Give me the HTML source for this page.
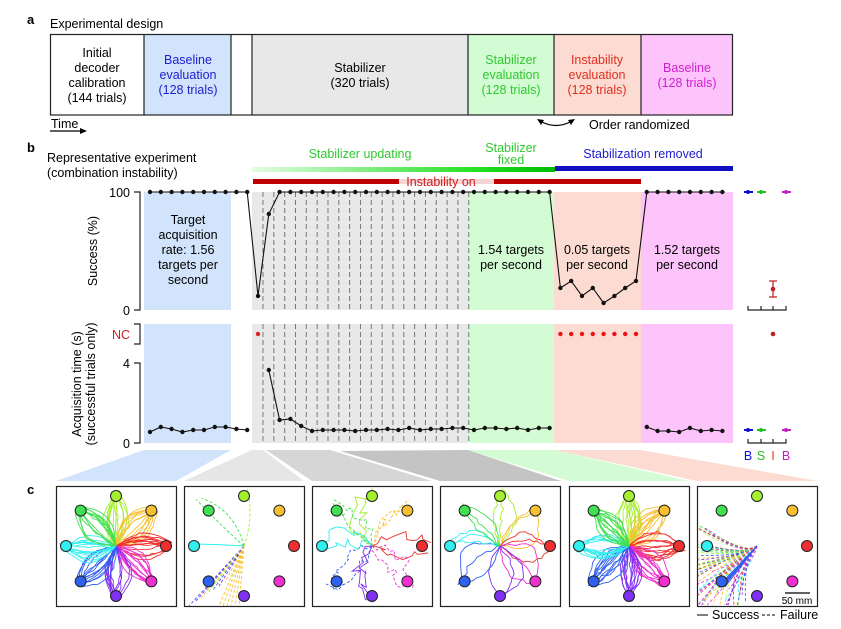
<!DOCTYPE html>
<html><head><meta charset="utf-8"><style>
html,body{margin:0;padding:0;background:#fff;}
svg{display:block;font-family:"Liberation Sans",Arial,sans-serif;}
</style></head><body>
<svg id="s" width="841" height="629" viewBox="0 0 841 629" xmlns="http://www.w3.org/2000/svg">
<text x="27" y="24" font-size="13" font-weight="bold">a</text>
<text x="50" y="28" font-size="12.5">Experimental design</text>
<rect x="144" y="34" width="87" height="81" fill="#d2e4fb"/>
<rect x="252" y="34" width="216" height="81" fill="#e8e8e8"/>
<rect x="468" y="34" width="86" height="81" fill="#d4fcd4"/>
<rect x="554" y="34" width="87" height="81" fill="#fcdcd2"/>
<rect x="641" y="34" width="92" height="81" fill="#fcc4fa"/>
<rect x="50.5" y="34.5" width="682" height="80.5" fill="none" stroke="#222" stroke-width="1.2"/>
<g stroke="#222" stroke-width="1.2"><line x1="144" y1="34" x2="144" y2="115"/><line x1="231" y1="34" x2="231" y2="115"/><line x1="252" y1="34" x2="252" y2="115"/><line x1="468" y1="34" x2="468" y2="115"/><line x1="554" y1="34" x2="554" y2="115"/><line x1="641" y1="34" x2="641" y2="115"/></g>
<g font-size="12.5" text-anchor="middle">
<text x="97" y="57">Initial</text><text x="97" y="72">decoder</text><text x="97" y="87">calibration</text><text x="97" y="102">(144 trials)</text>
<g fill="#2020d0"><text x="188" y="64">Baseline</text><text x="188" y="79">evaluation</text><text x="188" y="94">(128 trials)</text></g>
<text x="360" y="72">Stabilizer</text><text x="360" y="87">(320 trials)</text>
<g fill="#30c830"><text x="511" y="64">Stabilizer</text><text x="511" y="79">evaluation</text><text x="511" y="94">(128 trials)</text></g>
<g fill="#e03020"><text x="597" y="64">Instability</text><text x="597" y="79">evaluation</text><text x="597" y="94">(128 trials)</text></g>
<g fill="#d020d0"><text x="687" y="72">Baseline</text><text x="687" y="87">(128 trials)</text></g>
</g>
<text x="51" y="128" font-size="12.5">Time</text>
<line x1="50" y1="131" x2="82" y2="131" stroke="#000" stroke-width="1.2"/><polygon points="87,131 80,128 80,134" fill="#000"/>
<path d="M540,121 Q556,130 572,121" fill="none" stroke="#000" stroke-width="1.2"/>
<polygon points="537,119 544,120 541,125" fill="#000"/><polygon points="575,119 568,120 571,125" fill="#000"/>
<text x="589" y="129" font-size="12.5">Order randomized</text>

<text x="27" y="152" font-size="13" font-weight="bold">b</text>
<text x="47" y="162" font-size="12.5">Representative experiment</text>
<text x="47" y="177" font-size="12.5">(combination instability)</text>
<defs><linearGradient id="gg" x1="0" x2="1"><stop offset="0" stop-color="#e4fce4"/><stop offset="0.75" stop-color="#20e020"/><stop offset="1" stop-color="#00bb00"/></linearGradient></defs>
<text x="360" y="158" font-size="12.5" fill="#30c830" text-anchor="middle">Stabilizer updating</text>
<text x="511" y="152" font-size="12.5" fill="#30c830" text-anchor="middle">Stabilizer</text>
<text x="511" y="164" font-size="12.5" fill="#30c830" text-anchor="middle">fixed</text>
<text x="643" y="158" font-size="12.5" fill="#2020d0" text-anchor="middle">Stabilization removed</text>
<rect x="252" y="167" width="303" height="5" fill="url(#gg)"/>
<rect x="555" y="166" width="178" height="5" fill="#1010c0"/>
<rect x="253" y="179" width="146" height="5" fill="#c00000"/>
<rect x="399" y="179" width="95" height="5" fill="#f4d4d4"/>
<rect x="494" y="179" width="147" height="5" fill="#c00000"/>
<text x="441" y="186" font-size="12.5" fill="#d02020" text-anchor="middle">Instability on</text>

<rect x="144" y="192" width="87" height="118" fill="#d2e4fb"/>
<rect x="252" y="192" width="216" height="118" fill="#e8e8e8"/>
<rect x="468" y="192" width="86" height="118" fill="#d4fcd4"/>
<rect x="554" y="192" width="87" height="118" fill="#fcdcd2"/>
<rect x="641" y="192" width="92" height="118" fill="#fcc4fa"/>
<rect x="144" y="324" width="87" height="119" fill="#d2e4fb"/>
<rect x="252" y="324" width="216" height="119" fill="#e8e8e8"/>
<rect x="468" y="324" width="86" height="119" fill="#d4fcd4"/>
<rect x="554" y="324" width="87" height="119" fill="#fcdcd2"/>
<rect x="641" y="324" width="92" height="119" fill="#fcc4fa"/>
<g id="dash" stroke="#777" stroke-width="1" stroke-dasharray="5,3"></g>

<g stroke="#222" stroke-width="1.2" fill="none">
<path d="M134,192 H140 V310 H134"/>
<path d="M134,324 H140 V344 H134"/>
<path d="M134,363 H140 V443 H134"/>
<path d="M748,306 V310 H786 V306 M761,306 V310 M773,306 V310"/>
<path d="M748,439 V443 H786 V439 M761,439 V443 M773,439 V443"/>
</g>
<g font-size="12.5" text-anchor="end">
<text x="130" y="197">100</text><text x="130" y="315">0</text>
<text x="130" y="339" fill="#d02020">NC</text><text x="130" y="368">4</text><text x="130" y="448">0</text>
</g>
<text transform="translate(97,251) rotate(-90)" font-size="12.5" text-anchor="middle">Success (%)</text>
<text transform="translate(81,384) rotate(-90)" font-size="12.5" text-anchor="middle">Acquisition time (s)</text>
<text transform="translate(95,384) rotate(-90)" font-size="12.5" text-anchor="middle">(successful trials only)</text>

<g font-size="12.5" text-anchor="middle">
<text x="188" y="224">Target</text><text x="188" y="239">acquisition</text><text x="188" y="254">rate: 1.56</text><text x="188" y="269">targets per</text><text x="188" y="284">second</text>
<text x="511" y="254">1.54 targets</text><text x="511" y="269">per second</text>
<text x="597" y="254">0.05 targets</text><text x="597" y="269">per second</text>
<text x="687" y="254">1.52 targets</text><text x="687" y="269">per second</text>
</g>
<g id="data"></g>

<g stroke-width="2"><line x1="744" y1="192" x2="753" y2="192" stroke="#1010d0"/><line x1="757" y1="192" x2="766" y2="192" stroke="#20c020"/><line x1="782" y1="192" x2="791" y2="192" stroke="#c020c0"/>
<line x1="744" y1="430" x2="753" y2="430" stroke="#1010d0"/><line x1="757" y1="430" x2="766" y2="430" stroke="#20c020"/><line x1="782" y1="430" x2="791" y2="430" stroke="#c020c0"/></g>
<g fill="#1010d0"><circle cx="748" cy="192" r="2"/><circle cx="748" cy="430" r="2"/></g>
<g fill="#20c020"><circle cx="761" cy="192" r="2"/><circle cx="761" cy="430" r="2"/></g>
<g fill="#c020c0"><circle cx="786" cy="192" r="2"/><circle cx="786" cy="430" r="2"/></g>
<path d="M769,281 H777 M773,281 V297 M769,297 H777" stroke="#c02020" stroke-width="1.2" fill="none"/>
<circle cx="773" cy="289" r="2.3" fill="#c02020"/><circle cx="773" cy="334" r="2.3" fill="#c02020"/>
<g font-size="12.5" text-anchor="middle"><text x="748" y="460" fill="#1010d0">B</text><text x="761" y="460" fill="#20c020">S</text><text x="773" y="460" fill="#e04020">I</text><text x="786" y="460" fill="#c020c0">B</text></g>

<polygon points="144,450 231,450 176,481 56,481" fill="#d2e4fb"/>
<polygon points="252,450 263,450 304,481 184,481" fill="#e6e6e6"/>
<polygon points="266,450 330,450 432,481 312,481" fill="#d6d6d6"/>
<polygon points="340,451 468,450 561,481 440,481" fill="#c4c4c4"/>
<polygon points="468,450 554,450 689,481 569,481" fill="#d4fcd4"/>
<polygon points="554,450 641,450 818,481 697,481" fill="#fcdcd2"/>

<text x="27" y="494" font-size="13" font-weight="bold">c</text>
<g id="c"></g>
<line x1="785" y1="593" x2="810" y2="593" stroke="#000" stroke-width="1.2"/>
<text x="797" y="604" font-size="10" text-anchor="middle">50 mm</text>
<line x1="697" y1="615" x2="708" y2="615" stroke="#000"/>
<text x="712" y="619" font-size="12.5">Success</text>
<line x1="762" y1="615" x2="777" y2="615" stroke="#000" stroke-dasharray="3,2"/>
<text x="780" y="619" font-size="12.5">Failure</text>
</svg>
<script>
(function(){
var NS="http://www.w3.org/2000/svg";
function el(p,t,a){var e=document.createElementNS(NS,t);for(var k in a)e.setAttribute(k,a[k]);p.appendChild(e);return e;}
var dash=document.getElementById('dash');
for(var x=263;x<=469;x+=10.83){el(dash,'line',{x1:x,y1:192,x2:x,y2:310});el(dash,'line',{x1:x,y1:324,x2:x,y2:443});}
var d=document.getElementById('data');
function poly(pts,col){el(d,'polyline',{points:pts.map(function(p){return p.join(',');}).join(' '),fill:'none',stroke:'#111','stroke-width':1.1});pts.forEach(function(p){el(d,'circle',{cx:p[0],cy:p[1],r:2.2,fill:col||'#111'});});}
var xs=[];for(var i=0;i<54;i++)xs.push(150+i*10.8);
var tp=[];
var low=[288,281,296,288,303,296,288,281];
for(i=0;i<54;i++){var y=192;if(i==10)y=296;if(i==11)y=214;
 if(i>=38&&i<46)y=low[i-38];tp.push([xs[i],y]);}
poly(tp);
var bl=[432,427,429,432,430,430,427,427,429,430];
var a=[];for(i=0;i<10;i++)a.push([xs[i],bl[i]]);poly(a);
el(d,'circle',{cx:xs[10],cy:334,r:2.2,fill:'#e02020'});
var g=[370,420,419,426,431,430,430,430,431,430,430,429,430,428,430,429,429,428,428,430,428,428,429,428,430,428,428,431,433,431,431,431,429,429,428];
a=[];for(i=0;i<g.length&&11+i<38;i++)a.push([xs[11+i],g[i]]);poly(a);
for(i=38;i<46;i++)el(d,'circle',{cx:xs[i],cy:334,r:2.2,fill:'#ee1010'});
var p=[427,431,431,432,428,431,430,431];a=[];for(i=0;i<8;i++)a.push([xs[46+i],p[i]]);poly(a);

var c=document.getElementById('c');
var seed=7;function R(){seed=(seed*16807)%2147483647;return seed/2147483647;}
var cols=['#a6ee30','#f8c030','#f03030','#f030d0','#8030f0','#3060f0','#30f0f0','#40e050'];
var ang=[-90,-45,0,45,90,135,180,225];
var panels=[56,184,312,440,569,697];
function panel(px,type){
 var cx=px+60,cy=546,k,j;
 el(c,'rect',{x:px+0.5,y:486.5,width:120,height:120,fill:'#fff',stroke:'#222','stroke-width':1.2});
 var gr=el(c,'g',{});
 function traj(k,n,spread,dashf,wig,len){
  var A=ang[k]*Math.PI/180,tx=cx+50*Math.cos(A),ty=cy+50*Math.sin(A);
  for(var j=0;j<n;j++){
   var L=len||1;var ex=cx+(tx-cx)*L+(R()-.5)*8,ey=cy+(ty-cy)*L+(R()-.5)*8;
   ex=Math.max(px+1,Math.min(px+119,ex));ey=Math.max(487,Math.min(605,ey));
   var nx=-Math.sin(A),ny=Math.cos(A),o=(R()-.5)*spread;
   var s='M'+cx+','+cy;
   if(wig){for(var t=1;t<=12;t++){var f=t/12;var qx=cx+(ex-cx)*f+(R()-.5)*wig+nx*o*Math.sin(f*3.14);var qy=cy+(ey-cy)*f+(R()-.5)*wig+ny*o*Math.sin(f*3.14);qx=Math.max(px+1,Math.min(px+119,qx));qy=Math.max(487,Math.min(605,qy));s+=' L'+qx.toFixed(1)+','+qy.toFixed(1);}}
   else{var mx=(cx+ex)/2+nx*o,my=(cy+ey)/2+ny*o;s+=' Q'+mx.toFixed(1)+','+my.toFixed(1)+' '+ex.toFixed(1)+','+ey.toFixed(1);}
   el(gr,'path',{d:s,fill:'none',stroke:cols[k],'stroke-width':0.9,'stroke-dasharray':dashf?'3,2':'none'});
  }
 }
 if(type==0||type==4){for(k=0;k<8;k++)traj(k,14,30,false,type==4?2:1.5,1.05);}
 if(type==1){traj(6,1,10,false);traj(7,2,40,true,0,1.3);traj(0,1,40,true,0,1.2);
  for(j=0;j<8;j++){el(gr,'path',{d:'M'+cx+','+cy+' L'+(px+5+j*6)+','+(606-j*4),stroke:['#3060f0','#8030f0','#f8c030','#a6ee30'][j%4],'stroke-width':0.9,'stroke-dasharray':'3,2',fill:'none'});}
  for(j=0;j<6;j++)el(gr,'path',{d:'M'+cx+','+cy+' L'+(cx-5-j*4)+',606',stroke:'#f8c030','stroke-width':0.9,'stroke-dasharray':'3,2',fill:'none'});}
 if(type==2){for(k=0;k<8;k++)traj(k,2,40,k%2==1,10,1.1);}
 if(type==3){for(k=0;k<8;k++)traj(k,3,50,false,3,1.05);}
 if(type==5){for(j=0;j<60;j++){var an=(100+R()*100)*Math.PI/180,r=50+R()*60;el(gr,'path',{d:'M'+cx+','+cy+' Q'+(cx-30+R()*30)+','+(cy+10)+' '+Math.max(px+1,cx+r*Math.cos(an)).toFixed(1)+','+Math.min(605,cy+r*Math.sin(an)).toFixed(1),stroke:cols[j%8],'stroke-width':0.8,'stroke-dasharray':'3,2',fill:'none'});}
  for(j=0;j<10;j++)el(gr,'path',{d:'M'+cx+','+cy+' L'+(cx-38+R()*6)+','+(cy+36+R()*6),stroke:'#3060f0','stroke-width':0.9,fill:'none'});}
 for(k=0;k<8;k++){var A=ang[k]*Math.PI/180;el(c,'circle',{cx:cx+50*Math.cos(A),cy:cy+50*Math.sin(A),r:5.5,fill:cols[k],stroke:'#222','stroke-width':1});}
}
panels.forEach(function(x,i){panel(x,i);});
})();
</script>
</body></html>
